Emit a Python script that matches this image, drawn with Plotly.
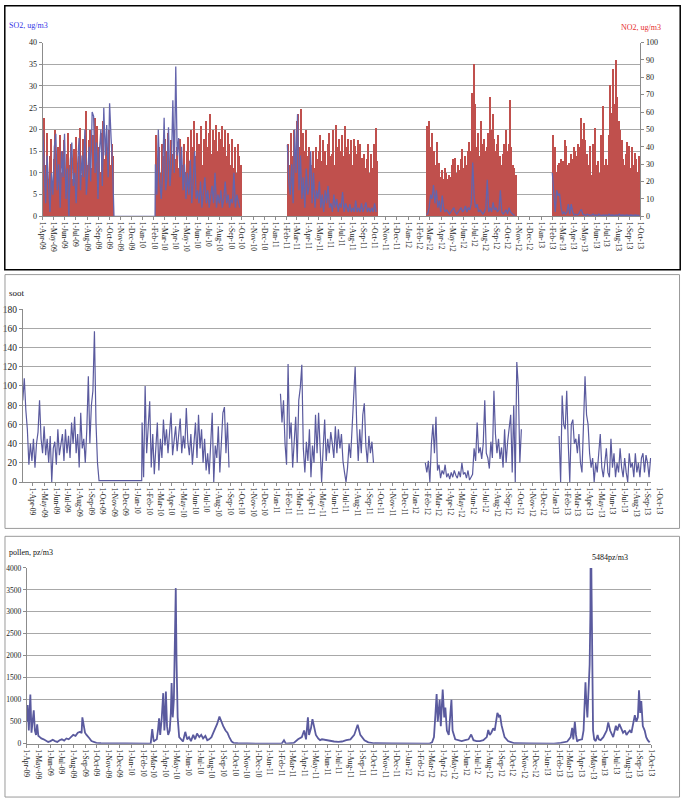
import pandas as pd
import plotly.graph_objects as go

# ---------------- data ----------------
STEP_DAYS = 4

# Panel 1: NO2 (bars, right axis) and SO2 (line, left axis), 4-day samples per season
no2_starts = ["2009-04-01", "2010-02-05", "2011-02-03", "2012-02-20", "2013-02-01"]
no2_2009 = [57, 30, 48, 22, 35, 45, 18, 33, 50, 28, 40, 47, 25, 38, 44, 20, 36, 48, 30, 42,
            22, 39, 46, 27, 35, 51, 24, 45, 38, 61, 30, 44, 50, 28, 47, 57, 35, 52, 40, 26,
            48, 55, 33, 45, 38, 50, 30, 42, 35]
no2_2010 = [47, 30, 40, 25, 42, 35,
            45, 38, 48, 28, 44, 36, 50, 33,
            40, 28, 45, 36, 30, 42, 26, 38,
            46, 32, 50, 40, 55, 35, 48, 42,
            38, 52, 30, 45, 55, 40, 48,
            59, 36, 50, 44, 53, 38, 49, 45,
            52, 40, 50, 35, 48, 42, 30, 45,
            28, 40, 25, 42, 35, 30]
no2_2011 = [42, 30, 48, 35, 50, 38, 55,
            59, 40, 62, 48, 38, 50, 35, 40,
            36, 30, 38, 28, 40, 33, 38,
            47, 32, 44, 38, 30, 42, 48, 35,
            36, 50, 30, 53, 40, 45, 38,
            47, 35, 52, 40, 45, 36, 44, 30,
            45, 41, 36, 44, 42, 30, 34, 36,
            28, 33, 42, 25, 36, 28, 42, 51,
            32]
no2_2012 = [52, 55, 40, 48, 31, 38, 30, 43, 31, 23, 27, 22, 28, 25, 22, 24, 23, 30, 33, 34,
            25, 30, 27, 33, 39, 28, 35, 30, 38, 43, 38, 71, 88, 65, 40, 48, 35, 55, 42, 45,
            38, 40, 48, 69, 50, 59, 45, 38, 42, 47, 35, 30, 36, 42, 50, 38, 42, 67, 40, 30,
            28, 24]
no2_2013 = [47, 40, 26, 30, 31, 33, 28, 32, 44, 41, 30, 31, 36, 33, 40, 38, 35, 42, 40, 57,
            45, 54, 44, 36, 30, 41, 24, 42, 25, 51, 30, 32, 25, 47, 64, 30, 33, 30, 47, 76,
            60, 85, 65, 90, 69, 55, 50, 44, 33, 30, 36, 43, 41, 28, 40, 30, 37, 33, 26, 35,
            30]

so2_2009 = [20, 12, 3, 14, 8, 1, 10, 5, 16, 19, 6, 12, 2, 15, 9, 19, 4, 11, 0, 13,
            17, 7, 10, 3, 12, 18, 6, 14, 9, 20, 5, 12, 16, 8, 24, 23, 10, 17, 4, 15,
            20, 7, 25, 14, 21, 9, 26, 18, 12]
so2_2010 = [12, 5, 20, 8, 4, 10,
            22.7, 6, 9, 20.5, 7, 12, 26.7, 10,
            34.5, 14, 18, 9, 16, 6, 12, 4,
            10, 5, 13, 3, 8, 15, 4, 6,
            3, 8, 2, 5, 9, 3, 6,
            2, 4, 7, 3, 10, 2, 5, 3,
            6, 2, 4, 8, 3, 5, 2, 4,
            3, 10, 2, 5, 3, 2]
so2_2011 = [16.5, 8, 5, 12, 3, 20, 10,
            23.5, 6, 14, 4, 9, 2, 11, 5,
            7, 15, 3, 10, 2, 6, 4,
            8, 2, 5, 1, 6, 3, 7, 2,
            3, 1, 5, 2, 4, 1, 3,
            2, 5.6, 1, 3, 2, 1, 2.8, 1,
            2, 1, 3.6, 1, 2, 1, 3, 1,
            2, 3.2, 1, 2, 1, 2, 1, 3,
            1]
so2_2012 = [0.5, 0.5, 2, 5, 4, 7.2, 3, 6, 2, 3.6, 1, 4.8, 2, 1, 1.5, 1, 0.5, 1, 1.5, 2,
            1, 0.5, 1, 1.5, 2, 1, 1.5, 2.4, 1, 2, 1.5, 3, 12.4, 4.4, 2, 2.8, 1, 1.5, 1, 0.5,
            1, 2, 8.4, 1, 2, 1, 3.2, 1.5, 2, 1, 1.5, 6, 1, 0.5, 1, 1.5, 0.5, 2, 1, 0.5,
            0.3, 0.3]
so2_2013 = [10, 4, 1, 6, 4.8, 5.2, 2, 0.5, 1, 0.5, 1, 2.8, 0.5, 2.8, 1, 0.3, 0.5, 0.3, 0.5, 1.2,
            1.6, 0.5, 0.3, 0.2, 0.5, 0.3, 0.2, 0.3, 0.5, 0.2, 0.3, 0.2, 0.5, 0.3, 0.2, 0.3, 0.2, 0.3, 0.2, 0.5,
            0.2, 0.3, 0.2, 0.2, 0.3, 0.2, 0.5, 0.2, 0.3, 0.2, 0.2, 0.3, 0.2, 0.2, 0.3, 0.2, 0.2, 0.3, 0.2, 0.2,
            0.3]
so2_gap_dates = ["2009-10-14", "2010-02-04"]
so2_gap_values = [0, 0]

# Panel 2: soot, 4-day samples per season
soot_starts = ["2009-03-06", "2010-01-13", "2011-01-11", "2012-01-26", "2013-01-11"]
soot_2009 = [85, 108, 75, 55, 18, 40, 22, 45, 15, 40, 52, 85, 45, 30, 58, 28, 45, 20, 48, 0,
             35, 42, 18, 55, 28, 40, 50, 22, 55, 30, 48, 25, 62, 40, 68, 30, 50, 15, 72, 35,
             45, 20, 55, 110, 40, 80, 95, 157, 62, 20]
soot_2010 = [62, 5, 100, 30, 55, 84, 15, 50, 8, 35, 62, 12, 45, 25, 65, 38, 55, 30, 48, 72,
             28, 45, 58, 32, 50, 66, 30, 48, 35, 77, 42, 28, 50, 18, 40, 62, 25, 70, 35, 55,
             20, 45, 12, 30, 8, 40, 72, 0, 38, 25, 58, 10, 42, 72, 78, 30, 62, 15]
soot_2011 = [92, 62, 85, 40, 18, 123, 45, 62, 15, 50, 68, 20, 85, 98, 122, 35, 10, 42, 22, 55,
             5, 38, 20, 70, 30, 72, 38, 0, 35, 65, 22, 45, 30, 52, 40, 25, 58, 30, 55, 35,
             50, 22, 10, 0, 15, 40, 25, 58, 80, 120, 60, 22, 55, 30, 70, 82, 38, 20, 48, 30,
             42, 20]
soot_2012 = [20, 10, 22, 0, 40, 60, 30, 68, 12, 18, 4, 12, 8, 18, 5, 9, 3, 10, 5, 12,
             7, 4, 11, 5, 20, 8, 10, 4, 12, 2, 5, 8, 35, 22, 62, 30, 36, 24, 40, 85,
             30, 25, 14, 42, 25, 95, 50, 30, 45, 24, 36, 15, 55, 20, 42, 60, 70, 10, 80, 0,
             125, 100, 20, 55]
soot_2013 = [48, 0, 90, 60, 55, 95, 40, 0, 60, 65, 40, 45, 30, 50, 20, 10, 60, 110, 70, 60,
             30, 15, 25, 0, 20, 10, 30, 50, 15, 5, 20, 35, 10, 5, 45, 15, 30, 5, 20, 10,
             35, 15, 5, 25, 10, 0, 30, 15, 20, 5, 30, 10, 20, 5, 25, 30, 10, 28, 20, 5,
             25]
soot_gap_dates = ["2009-09-22", "2010-01-12"]
soot_gap_values = [1.5, 1.5]

# Panel 3: pollen, days after 1-Apr-2009 and values
pollen_origin = "2009-04-01"
pollen_day = [0, 2, 5, 9, 12, 15, 18, 21, 24, 27, 30, 34, 38, 44, 50, 56, 62, 68, 74, 80,
              86, 92, 98, 104, 110, 116, 122, 128, 134, 140, 144, 146, 149, 153, 157, 161, 165, 170, 176, 183,
              195, 210, 260, 300,
              326, 330, 334, 338, 342, 345, 348, 351, 355, 359, 362, 364, 366, 369, 372, 376, 379, 381, 384, 387,
              390, 392, 394, 397, 401, 406, 411, 417, 422, 427, 432, 438, 443, 448, 454, 459, 464, 470, 475, 480,
              486, 491, 496, 501, 507, 512, 517, 523, 528, 533, 539, 544, 555, 580, 640,
              671, 677, 682, 703, 714, 724, 730, 735, 740, 743, 748, 752, 756, 761, 767, 772, 777, 788, 798, 809,
              820, 830, 841, 852, 862, 871, 878, 889, 899, 915, 960, 1020,
              1059, 1067, 1072, 1076, 1079, 1082, 1087, 1090, 1095, 1099, 1102, 1106, 1111, 1118, 1121, 1128, 1137, 1145, 1154, 1163,
              1170, 1176, 1184, 1193, 1202, 1211, 1215, 1219, 1223, 1228, 1232, 1237, 1239, 1243, 1246, 1250, 1254, 1258, 1267, 1276,
              1284, 1320, 1370,
              1388, 1406, 1414, 1423, 1432, 1436, 1439, 1443, 1446, 1449, 1453, 1462, 1466, 1471, 1473, 1476, 1479, 1482, 1484, 1485,
              1487, 1489, 1491, 1494, 1498, 1503, 1506, 1511, 1518, 1527, 1531, 1536, 1540, 1544, 1551, 1555, 1560, 1566, 1570, 1575,
              1579, 1583, 1588, 1592, 1596, 1601, 1605, 1609, 1612, 1615, 1618, 1622, 1627, 1631, 1635, 1640]
pollen_value = [500, 880, 300, 1120, 250, 500, 760, 300, 200, 440, 180, 150, 120, 100, 70, 40, 60, 90, 60, 40,
                80, 100, 70, 120, 100, 150, 200, 180, 250, 270, 240, 600, 400, 250, 200, 170, 120, 60, 40, 20,
                10, 5, 8, 5,
                0, 330, 50, 80, 100, 300, 580, 200, 580, 1150, 300, 600, 1190, 400, 200, 300, 700, 1380, 600, 1000,
                2200, 3540, 1900, 600, 150, 100, 50, 270, 100, 150, 60, 200, 100, 230, 150, 200, 120, 180, 80, 100,
                150, 250, 350, 450, 620, 500, 400, 300, 250, 150, 50, 20, 10, 5, 3,
                0, 80, 0, 20, 100, 150, 300, 100, 600, 200, 350, 560, 400, 200, 120, 80, 100, 80, 60, 50,
                40, 50, 80, 100, 200, 430, 200, 80, 30, 10, 5, 3,
                0, 30, 150, 700, 1130, 500, 1000, 400, 1230, 600, 820, 300, 200, 1000, 300, 100, 80, 60, 80, 100,
                210, 80, 60, 60, 80, 150, 313, 200, 250, 350, 300, 550, 700, 620, 650, 420, 250, 150, 60, 30,
                10, 5, 5,
                0, 20, 30, 50, 150, 360, 100, 500, 200, 50, 80, 100, 300, 1400, 1000, 600, 1200, 1800, 3000, 5484,
                3500, 2000, 300, 100, 60, 200, 100, 80, 150, 300, 485, 300, 200, 150, 410, 300, 450, 350, 250, 300,
                200, 250, 300, 250, 450, 650, 500, 600, 1216, 700, 970, 400, 300, 150, 80, 30]

month_tick_start = "2009-04-01"

# ---------------- helpers ----------------
FONT = "Liberation Serif"
W, H = 685, 805


def px(x):
    return x / W


def py(y):
    return 1 - y / H


def seasons_xy(starts, seasons, gap_after_first=None):
    xs, ys = [], []
    for i, (s, vals) in enumerate(zip(starts, seasons)):
        d = pd.date_range(s, periods=len(vals), freq=f"{STEP_DAYS}D")
        xs += list(d)
        ys += list(vals)
        if i == 0 and gap_after_first is not None:
            xs += [pd.Timestamp(t) for t in gap_after_first[0]]
            ys += list(gap_after_first[1])
        else:
            xs.append(None)
            ys.append(None)
    return xs, ys


no2_x, no2_y = seasons_xy(no2_starts, [no2_2009, no2_2010, no2_2011, no2_2012, no2_2013])
no2_x = [x for x in no2_x if x is not None]
no2_y = [y for y in no2_y if y is not None]
so2_x, so2_y = seasons_xy(no2_starts, [so2_2009, so2_2010, so2_2011, so2_2012, so2_2013],
                          (so2_gap_dates, so2_gap_values))
soot_x, soot_y = seasons_xy(soot_starts, [soot_2009, soot_2010, soot_2011, soot_2012, soot_2013],
                            (soot_gap_dates, soot_gap_values))
pollen_x = [pd.Timestamp(pollen_origin) + pd.Timedelta(days=d) for d in pollen_day]

BLUE = "#6464AC"
LINE_BLUE = "#5A5A9E"
RED = "#C0504D"
GRID = "#A8A8A8"
AXIS = "#8C8C8C"

fig = go.Figure()
fig.add_trace(go.Bar(x=no2_x, y=no2_y, xaxis="x", yaxis="y",
                     width=STEP_DAYS * 86400000, offset=0,
                     marker=dict(color=RED, line=dict(width=0))))
fig.add_trace(go.Scatter(x=so2_x, y=so2_y, xaxis="x", yaxis="y2", mode="lines",
                         line=dict(color=BLUE, width=1.3), connectgaps=False))
fig.add_trace(go.Scatter(x=soot_x, y=soot_y, xaxis="x2", yaxis="y3", mode="lines",
                         line=dict(color=LINE_BLUE, width=1.2), connectgaps=False))
fig.add_trace(go.Scatter(x=pollen_x, y=pollen_value, xaxis="x3", yaxis="y4", mode="lines",
                         line=dict(color=LINE_BLUE, width=1.8)))

xcommon = dict(type="date", tickformat="%-d-%b-%y", dtick="M1", tick0=month_tick_start,
               tickangle=90, ticks="outside", ticklen=3, tickcolor=AXIS,
               showline=True, linecolor=AXIS, linewidth=1, showgrid=False,
               tickfont=dict(family=FONT, size=7.5, color="#222"))
ycommon = dict(ticks="outside", ticklen=3, tickcolor=AXIS, showline=True, linecolor=AXIS,
               linewidth=1, zeroline=False, gridcolor=GRID, gridwidth=1)

fig.update_layout(
    width=W, height=H, autosize=False,
    margin=dict(l=0, r=0, t=0, b=0),
    paper_bgcolor="white", plot_bgcolor="white",
    showlegend=False, bargap=0,
    xaxis=dict(domain=[px(39), px(644)], anchor="y",
               range=["2009-03-31 12:00", "2013-10-01 12:00"], **xcommon),
    yaxis=dict(domain=[py(214), py(38)], anchor="x", side="right", range=[0, 100], dtick=10,
               showgrid=False, tickfont=dict(family=FONT, size=8, color="#222"), **ycommon),
    yaxis2=dict(overlaying="y", anchor="x", side="left", range=[0, 40], dtick=5, showgrid=True,
                tickfont=dict(family=FONT, size=8, color="#222"), **ycommon),
    xaxis2=dict(domain=[px(19), px(655)], anchor="y3",
                range=["2009-03-06", "2013-09-10"], **xcommon),
    yaxis3=dict(domain=[py(483), py(308)], anchor="x2", range=[0, 180], dtick=20, showgrid=True,
                tickfont=dict(family=FONT, size=9.5, color="#222"), **ycommon),
    xaxis3=dict(domain=[px(23), px(655)], anchor="y4",
                range=["2009-03-31 12:00", "2013-10-01 12:00"], **xcommon),
    yaxis4=dict(domain=[py(748), py(570)], anchor="x3", range=[0, 4000], dtick=500, showgrid=True,
                tickfont=dict(family=FONT, size=7.5, color="#222"), **ycommon),
)

fig.add_shape(type="rect", xref="paper", yref="paper", x0=px(0.8), x1=px(684.2),
              y0=py(268), y1=py(0.8), line=dict(color="black", width=1.5))
fig.add_shape(type="rect", xref="paper", yref="paper", x0=px(1), x1=px(683.5),
              y0=py(530), y1=py(273), line=dict(color="#9A9A9A", width=1))
fig.add_shape(type="rect", xref="paper", yref="paper", x0=px(1), x1=px(683.5),
              y0=py(802), y1=py(538), line=dict(color="#9A9A9A", width=1))

ann = [
    dict(text="SO2, ug/m3", x=px(3), y=py(21), xanchor="left", color="#3535E6", size=8),
    dict(text="NO2, ug/m3", x=px(667), y=py(23), xanchor="right", color="#E62E2E", size=8),
    dict(text="soot", x=px(3), y=py(292), xanchor="left", color="#111", size=9),
    dict(text="pollen, pz/m3", x=px(3), y=py(554), xanchor="left", color="#111", size=8),
    dict(text="5484pz/m3", x=px(613), y=py(559), xanchor="center", color="#111", size=8),
]
for a in ann:
    fig.add_annotation(text=a["text"], x=a["x"], y=a["y"], xref="paper", yref="paper",
                       xanchor=a["xanchor"], yanchor="middle", showarrow=False,
                       font=dict(family=FONT, size=a["size"], color=a["color"]))
fig.add_annotation(text="1-Oct-13", x=px(663), y=py(486), xref="paper", yref="paper",
                   xanchor="center", yanchor="top", showarrow=False, textangle=90,
                   font=dict(family=FONT, size=7.5, color="#222"))

fig.write_html(
    "out.html",
    config={"responsive": False, "displayModeBar": False},
    default_width="685px", default_height="805px",
    post_script="document.body.style.margin='0';document.body.style.padding='0';"
                "document.body.style.overflow='hidden';",
)
